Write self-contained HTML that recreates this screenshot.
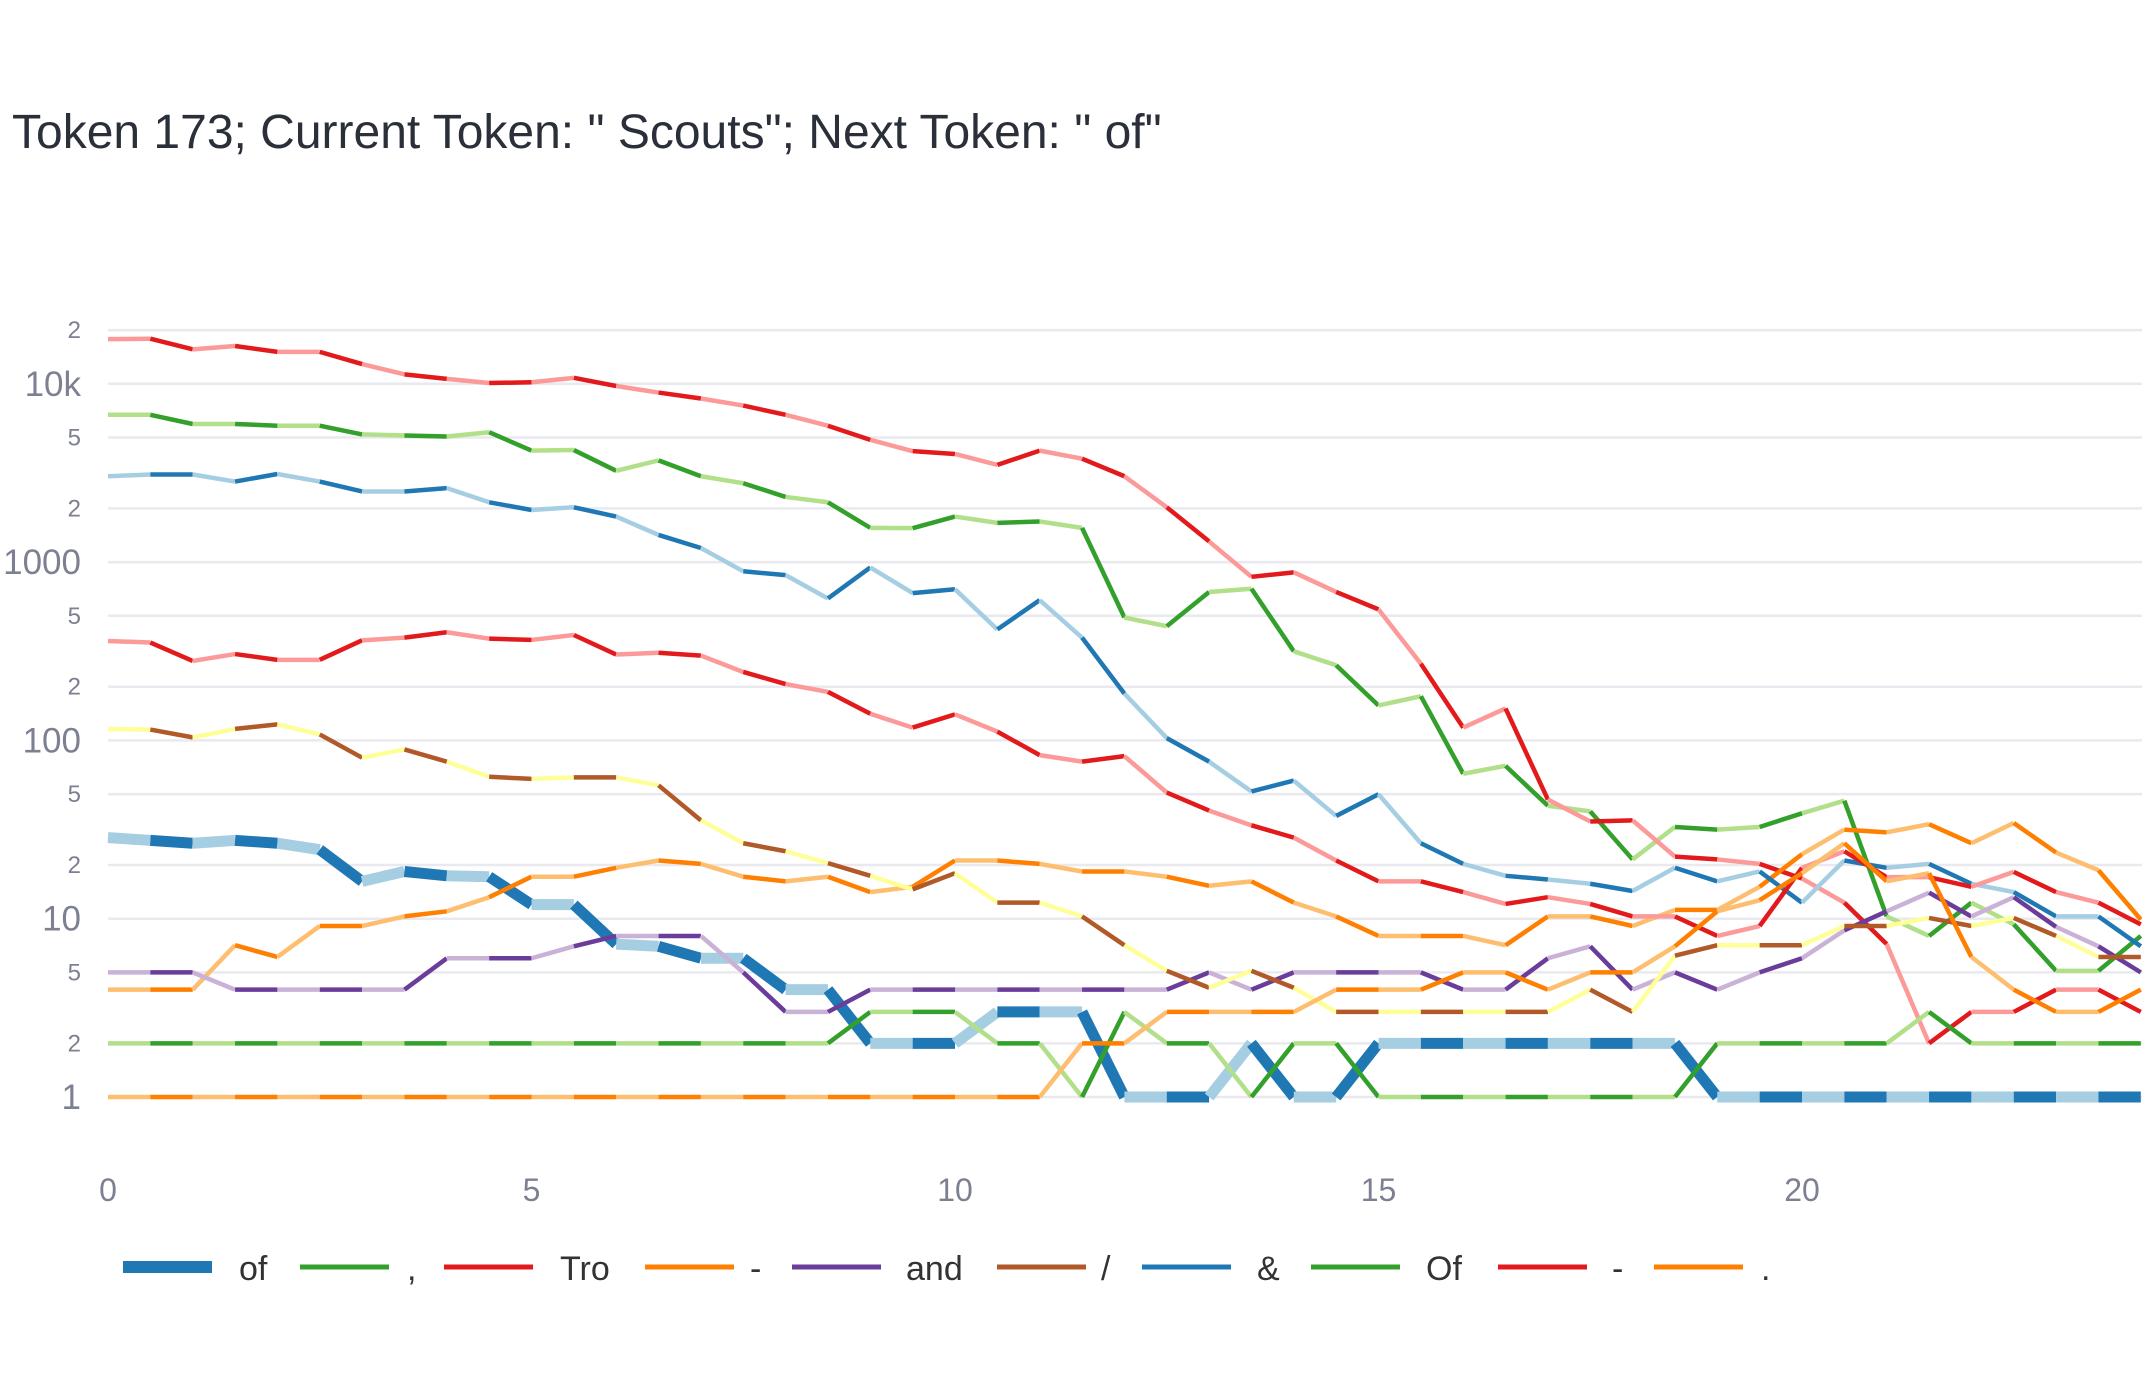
<!DOCTYPE html>
<html><head><meta charset="utf-8"><style>
html,body{margin:0;padding:0;background:#fff;}
svg{display:block;font-family:"Liberation Sans",sans-serif;}
</style></head><body>
<svg id="chart" width="2142" height="1380" viewBox="0 0 2142 1380" xmlns="http://www.w3.org/2000/svg">
<text x="12" y="148" font-size="48" fill="#2a2f3a">Token 173; Current Token: " Scouts"; Next Token: " of"</text>
<defs><clipPath id="plotclip"><rect x="0" y="280" width="2142" height="860"/></clipPath></defs>
<g id="grid"></g>
<g id="yticks"></g>
<g id="xticks"></g>
<g id="series" clip-path="url(#plotclip)"></g>
<g id="legend"></g>
</svg>
<script>
const seriesNames = ["of", ",", "Tro", "-", "and", "/", "&", "Of", "-", "."];
const darkColors = ["#1f78b4","#33a02c","#e31a1c","#ff7f00","#6a3d9a","#b15928","#1f78b4","#33a02c","#e31a1c","#ff7f00"];
const lightColors = ["#a6cee3","#b2df8a","#fb9a99","#fdbf6f","#cab2d6","#ffff99","#a6cee3","#b2df8a","#fb9a99","#fdbf6f"];
const xStep = 0.5;
const sOf = [28.5,27.5,26.5,27.5,26.5,24.4,16.2,18.4,17.4,17.2,12,12,7.2,7,6,6,4,4,2,2,2,3,3,3,1,1,1,2,1,1,2,2,2,2,2,2,2,2,1,1,1,1,1,1,1,1,1,1,1];
const sComma = [6700,6700,5950,5950,5820,5820,5200,5130,5060,5350,4220,4250,3250,3720,3030,2770,2320,2165,1556,1550,1800,1660,1690,1556,489,437,680,709,316,264,157,177,65,72,43,40,21.5,32.7,31.6,32.7,39,45.9,10.3,8,12.3,9.3,5.1,5.1,8];
const sTro = [17800,17900,15600,16300,15100,15100,12900,11300,10650,10100,10200,10800,9720,8930,8270,7550,6700,5820,4850,4190,4040,3510,4220,3800,3030,2030,1306,827,876,680,543,269,118,151,46.6,35.1,35.6,22.3,21.5,20.3,16.8,12.3,7.2,2,3,3,4,4,3];
const sDashO = [4,4,4,7.1,6.1,9.1,9.1,10.3,11,13.2,17.2,17.2,19.3,21.2,20.3,17.2,16.2,17.2,14.1,15.1,21.2,21.2,20.3,18.4,18.4,17.2,15.3,16.2,12.3,10.3,8,8,8,7.1,10.3,10.3,9.1,11.2,11.2,15.1,23,31.6,30.5,33.9,26.5,34.4,23.5,18.7,9.9];
const sAnd = [5,5,5,4,4,4,4,4,6,6,6,7,8,8,8,5,3,3,4,4,4,4,4,4,4,4,5,4,5,5,5,5,4,4,6,7,4,5,4,5,6,8.6,11,14,10.3,13.2,9,7,5];
const sSlash = [116,115,104,116,123,108,80,89,76,62.5,60.8,62,62,56,35.6,26.5,23.9,20.5,17.4,14.6,18,12.3,12.3,10.3,7.1,5.1,4.1,5.1,4.1,3,3,3,3,3,3,4,3,6.2,7.1,7.1,7.1,9.1,9.1,10.1,9.1,10.1,8,6.1,6.1];
const sAmp = [3030,3100,3100,2830,3120,2830,2490,2490,2600,2165,1960,2030,1800,1420,1200,888,845,625,933,670,704,419,612,377,183,103,76,51.7,59.5,37.7,49.9,26.5,20.3,17.4,16.6,15.7,14.3,19.3,16.2,18.4,12.3,21.2,19.3,20.3,15.7,14.1,10.3,10.3,7.0];
const sOfCap = [2,2,2,2,2,2,2,2,2,2,2,2,2,2,2,2,2,2,3,3,3,2,2,1,3,2,2,1,2,2,1,1,1,1,1,1,1,1,2,2,2,2,2,3,2,2,2,2,2];
const sDashR = [361,354,279,305,283,283,364,377,404,372,366,390,303,310,299,242,207,187,141,118,140,112,82.7,76,81.6,51,40.4,33.4,28.5,21.2,16.2,16.2,14.1,12.1,13.2,12.1,10.3,10.3,8.0,9.1,19.3,23.9,17.1,17.1,15.1,18.3,14.1,12.3,9.3];
const sDot = [1,1,1,1,1,1,1,1,1,1,1,1,1,1,1,1,1,1,1,1,1,1,1,2,2,3,3,3,3,4,4,4,5,5,4,5,5,7,11,12.7,18,26.5,16.2,18,6.1,4,3,3,4];
const yTickVals = [1,2,5,10,20,50,100,200,500,1000,2000,5000,10000,20000];
const yTickLabels = ["1","2","5","10","2","5","100","2","5","1000","2","5","10k","2"];
const yTickMajor = [true,false,false,true,false,false,true,false,false,true,false,false,true,false];
const xTickVals = [0,5,10,15,20];

const allSeries = [sOf,sComma,sTro,sDashO,sAnd,sSlash,sAmp,sOfCap,sDashR,sDot];
const NS = "http://www.w3.org/2000/svg";
const X0 = 108, XU = 84.7, Y1 = 1097, YD = 178.3;
function xs(v){ return X0 + v*XU; }
function ys(v){ return Y1 - YD*Math.log10(v); }
function mk(tag, attrs, parent){ const e=document.createElementNS(NS,tag); for(const k in attrs) e.setAttribute(k,attrs[k]); parent.appendChild(e); return e; }

const grid=document.getElementById('grid'), yt=document.getElementById('yticks'), xt=document.getElementById('xticks');
yTickVals.forEach((v,i)=>{
  const l=mk('line',{x1:108,x2:2142,y1:ys(v),y2:ys(v),stroke:'#e9e9ef','stroke-width':2.5},grid);
  
  
  const t=mk('text',{x:81,y:ys(v)+(yTickMajor[i]?12:8),'text-anchor':'end','font-size':yTickMajor[i]?35:24,fill:'#7d8092'},yt);
  t.textContent=yTickLabels[i];
  
  
});
xTickVals.forEach(v=>{
  const t=mk('text',{x:xs(v),y:1201,'text-anchor':'middle','font-size':32,fill:'#7d8092'},xt);
  t.textContent=String(v);
  
  
});
const sg=document.getElementById('series');
allSeries.forEach((arr,si)=>{
  const g=mk('g',{},sg);
  
  
  const w = si===0 ? 11 : 4.5;
  for(let i=0;i<arr.length-1;i++){
    const seg=mk('line',{x1:xs(i*xStep),y1:ys(arr[i]),x2:xs((i+1)*xStep),y2:ys(arr[i+1]),stroke:(i%2===0?lightColors[si]:darkColors[si]),'stroke-width':w,'stroke-linecap':'butt'},g);
    
    
  }
});
const lg=document.getElementById('legend');
const legLineX=[123,300,444,645,792,997,1142,1311,1498,1654];
const legTextX=[239,407,560,750,906,1101,1257,1426,1612,1761];
seriesNames.forEach((n,i)=>{
  const g=mk('g',{},lg);
  
  
  const l=mk('line',{x1:legLineX[i],x2:legLineX[i]+89,y1:1267,y2:1267,stroke:darkColors[i],'stroke-width':i===0?12:5},g);
  
  
  const t=mk('text',{x:legTextX[i],y:1280,'font-size':34,fill:'#333'},g);
  t.textContent=n;
  
  
});
</script>
</body></html>
